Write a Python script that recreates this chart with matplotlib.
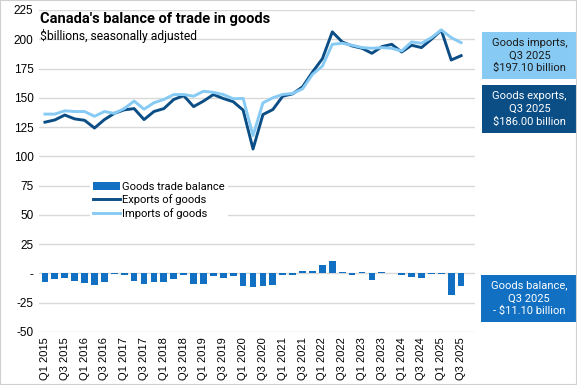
import matplotlib.pyplot as plt
from matplotlib.patches import Rectangle
import numpy as np

# quarters Q1 2015 .. Q3 2025
quarters = [f"Q{q} {y}" for y in range(2015, 2026) for q in (1, 2, 3, 4)][:43]

exports = [129.2, 131.1, 135.3, 132.0, 130.8, 124.2, 131.4, 136.7, 139.7, 140.8,
           131.4, 138.3, 140.8, 148.6, 151.9, 142.5, 147.2, 152.8, 149.4, 146.7,
           139.5, 106.3, 135.7, 140.0, 151.4, 153.4, 159.4, 172.0, 183.4, 206.3,
           197.7, 194.3, 192.3, 188.0, 193.7, 195.7, 189.1, 194.9, 192.9, 200.0,
           207.7, 182.3, 186.0]
imports = [136.1, 136.1, 138.9, 138.3, 138.3, 134.2, 138.3, 136.7, 140.8, 147.2,
           140.3, 145.8, 148.6, 152.8, 152.8, 151.4, 155.6, 154.7, 152.8, 149.2,
           149.5, 117.7, 145.7, 150.0, 152.9, 153.7, 157.7, 170.0, 177.1, 195.7,
           196.6, 194.9, 192.9, 192.3, 192.9, 192.3, 190.0, 197.7, 196.6, 201.4,
           208.0, 201.4, 197.1]
balance = [-6.9, -5.0, -3.6, -6.8, -7.8, -10.0, -7.0, -0.2, -1.1, -6.5,
           -8.9, -7.5, -7.6, -4.4, -1.0, -9.0, -9.2, -2.1, -4.0, -2.2,
           -10.3, -11.2, -10.4, -10.0, -1.5, -1.4, 1.7, 1.8, 6.8, 11.0,
           0.9, -1.0, 0.9, -5.5, 0.9, 0.8, -1.2, -3.0, -4.0, -0.3,
           -0.4, -18.4, -11.1]

yticks = [-50, -25, 0, 25, 50, 75, 100, 125, 150, 175, 200, 225]
ytick_labels = ["-50", "-25", "-", "25", "50", "75", "100", "125", "150", "175", "200", "225"]

C_BAR = "#1170C2"
C_EXP = "#0B4D85"
C_IMP = "#87CBF5"

W, H = 577, 385
fig = plt.figure(figsize=(W / 100, H / 100), dpi=100)
ax = fig.add_axes([39 / W, 1 - 332 / H, (475 - 39) / W, (332 - 10) / H])

x = np.arange(len(quarters))
bars = ax.bar(x, balance, width=0.68, color=C_BAR, label="Goods trade balance", zorder=2)
l_exp, = ax.plot(x, exports, color=C_EXP, lw=2.1, label="Exports of goods", zorder=3)
l_imp, = ax.plot(x, imports, color=C_IMP, lw=2.1, label="Imports of goods", zorder=4)

ax.set_xlim(-0.6, 43.4)
ax.set_ylim(-50, 225)
ax.set_yticks(yticks)
ax.set_yticklabels(ytick_labels, family="Liberation Sans", fontsize=8.5)
ax.set_xticks(x[::2])
ax.set_xticklabels(quarters[::2], rotation=90, family="Liberation Sans", fontsize=8)
ax.tick_params(length=0, pad=4)
ax.grid(axis="y", color="#D9D9D9", lw=1, zorder=0)
ax.set_axisbelow(True)
for s in ax.spines.values():
    s.set_visible(False)

leg = ax.legend([bars, l_exp, l_imp],
                ["Goods trade balance", "Exports of goods", "Imports of goods"],
                loc="upper left", bbox_to_anchor=(45 / 436, 1 - 163 / 322),
                frameon=True, framealpha=1, edgecolor="none", fancybox=False,
                prop={"family": "Roboto", "size": 8}, handlelength=2.4,
                handletextpad=0.2, labelspacing=0.22, borderpad=0.3)

fig.text(40 / W, 1 - 19 / H, "Canada's balance of trade in goods", family="Roboto",
         weight="bold", fontsize=10.5, va="center", ha="left")
fig.text(40 / W, 1 - 36 / H, "$billions, seasonally adjusted", family="Roboto",
         fontsize=8.7, va="center", ha="left")

# callout boxes on the right
boxes = [
    (482, 32, 79, C_IMP, "#1A1A1A", "Goods imports,\nQ3 2025\n$197.10 billion"),
    (482, 85, 133, C_EXP, "white", "Goods exports,\nQ3 2025\n$186.00 billion"),
    (481, 275, 322, C_BAR, "white", "Goods balance,\nQ3 2025\n- $11.10 billion"),
]
for x0, y0, y1, fc, tc, txt in boxes:
    fig.patches.append(Rectangle((x0 / W, 1 - y1 / H), (W - x0) / W, (y1 - y0) / H,
                                 transform=fig.transFigure, facecolor=fc,
                                 edgecolor="none", zorder=5))
    fig.text((x0 + W) / 2 / W, 1 - (y0 + y1) / 2 / H, txt, family="Roboto",
             fontsize=8, color=tc, ha="center", va="center", linespacing=1.35, zorder=6)

fig.patches.append(Rectangle((0, 0), 1, 1, transform=fig.transFigure, fill=False,
                             edgecolor="#D0D0D0", lw=1.5, zorder=7))

fig.savefig("out.png", dpi=100)
